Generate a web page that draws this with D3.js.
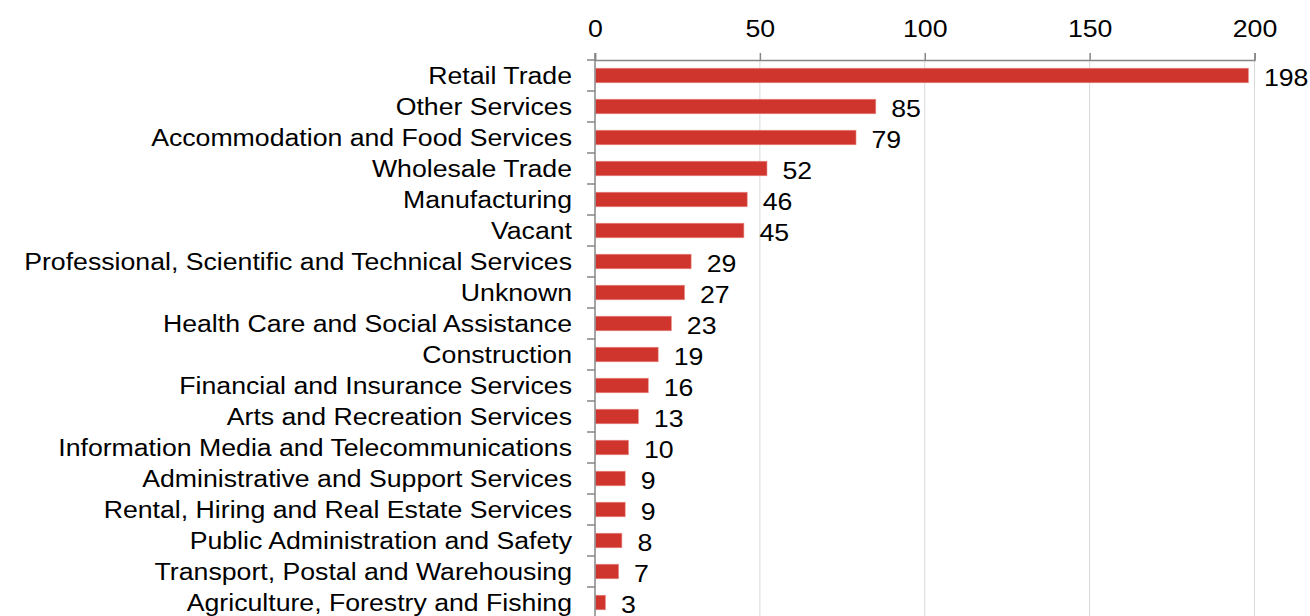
<!DOCTYPE html>
<html>
<head>
<meta charset="utf-8">
<script src="https://cdn.jsdelivr.net/npm/d3@7"></script>
<style>
  body { margin: 0; background: #fff; }
  text { font-family: "Liberation Sans", Arial, sans-serif; fill: #000; }
</style>
</head>
<body>
<svg id="chart" width="1310" height="616"></svg>
<script>
const categories = [
    'Retail Trade', 'Other Services', 'Accommodation and Food Services',
    'Wholesale Trade', 'Manufacturing', 'Vacant',
    'Professional, Scientific and Technical Services', 'Unknown',
    'Health Care and Social Assistance', 'Construction',
    'Financial and Insurance Services', 'Arts and Recreation Services',
    'Information Media and Telecommunications', 'Administrative and Support Services',
    'Rental, Hiring and Real Estate Services', 'Public Administration and Safety',
    'Transport, Postal and Warehousing', 'Agriculture, Forestry and Fishing'
];
const values = [198, 85, 79, 52, 46, 45, 29, 27, 23, 19, 16, 13, 10, 9, 9, 8, 7, 3];
const xTicks = [0, 50, 100, 150, 200];

const FONT_SIZE = 23;
const STRETCH = 1.16;   // reference glyphs are wider than Liberation Sans

const svg = d3.select('#chart');
const plotLeft = 595, plotRight = 1254.5, plotTop = 60, plotBottom = 618;

const x = d3.scaleLinear().domain([0, 200]).range([plotLeft, plotRight]);
const y = d3.scaleBand().domain(categories).range([plotTop, plotBottom]).paddingInner(0.53).paddingOuter(0.265);

// gridlines
svg.append('g')
    .selectAll('line')
    .data(xTicks.slice(1))
    .join('line')
    .attr('x1', d => x(d)).attr('x2', d => x(d))
    .attr('y1', plotTop).attr('y2', 616)
    .attr('stroke', '#d9d9d9')
    .attr('stroke-width', 1);

// bars
svg.append('g')
    .selectAll('rect')
    .data(values)
    .join('rect')
    .attr('x', x(0) + 0.5)
    .attr('y', (d, i) => y(categories[i]))
    .attr('width', d => x(d) - x(0))
    .attr('height', y.bandwidth())
    .attr('fill', '#d0352d')
    .attr('stroke', '#e88a84')
    .attr('stroke-width', 0.6);

// top axis
const xAxis = svg.append('g')
    .attr('transform', `translate(0,${plotTop})`)
    .call(d3.axisTop(x).tickValues(xTicks).tickSize(7).tickPadding(16));
xAxis.select('.domain').attr('stroke', '#868686').attr('stroke-width', 1.5);
xAxis.selectAll('.tick line').attr('stroke', '#868686').attr('stroke-width', 1.5);
xAxis.selectAll('.tick text')
    .attr('font-size', FONT_SIZE)
    .attr('font-family', '"Liberation Sans", Arial, sans-serif')
    .attr('fill', '#000')
    .attr('transform', `scale(${STRETCH},1)`);

// left axis line and boundary ticks
const step = y.step();
svg.append('line')
    .attr('x1', plotLeft).attr('x2', plotLeft)
    .attr('y1', plotTop - 7).attr('y2', 616)
    .attr('stroke', '#868686').attr('stroke-width', 1.5);
svg.append('g')
    .selectAll('line')
    .data(d3.range(categories.length + 1))
    .join('line')
    .attr('x1', plotLeft - 8).attr('x2', plotLeft)
    .attr('y1', i => plotTop + i * step).attr('y2', i => plotTop + i * step)
    .attr('stroke', '#868686').attr('stroke-width', 1.5);

// category labels
svg.append('g')
    .selectAll('text')
    .data(categories)
    .join('text')
    .attr('transform', d => `translate(572,${y(d) + y.bandwidth() / 2}) scale(${STRETCH},1)`)
    .attr('dy', '0.36em')
    .attr('text-anchor', 'end')
    .attr('font-size', FONT_SIZE)
    .text(d => d);

// value labels
svg.append('g')
    .selectAll('text')
    .data(values)
    .join('text')
    .attr('transform', (d, i) => `translate(${x(d) + 16},${y(categories[i]) + y.bandwidth() / 2 + 2}) scale(${STRETCH},1)`)
    .attr('dy', '0.36em')
    .attr('font-size', FONT_SIZE)
    .text(d => d);
</script>
</body>
</html>
